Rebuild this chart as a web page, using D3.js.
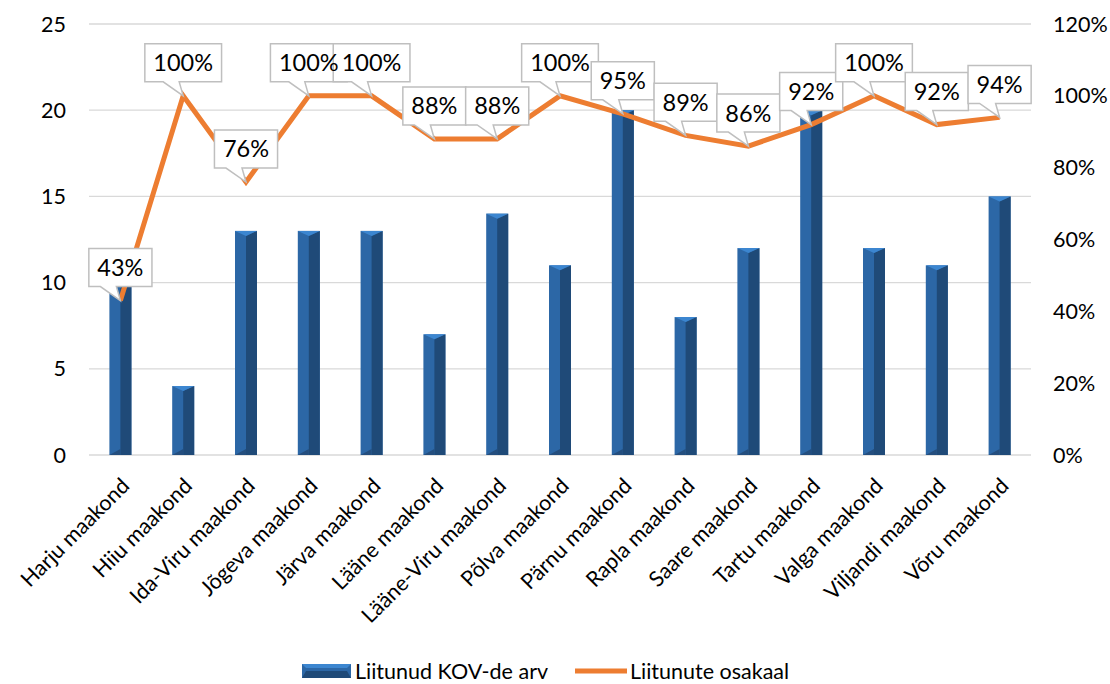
<!DOCTYPE html>
<html><head><meta charset="utf-8">
<script src="https://cdn.jsdelivr.net/npm/d3@7"></script>
<style>body{margin:0;background:#fff;} text{font-family:Lato,"Noto Sans",sans-serif;fill:#000;}</style>
</head><body>
<svg id="c" width="1110" height="684"></svg>
<script>
const categories = ["Harju maakond","Hiiu maakond","Ida-Viru maakond","Jõgeva maakond","Järva maakond","Lääne maakond","Lääne-Viru maakond","Põlva maakond","Pärnu maakond","Rapla maakond","Saare maakond","Tartu maakond","Valga maakond","Viljandi maakond","Võru maakond"];
const counts = [10,4,13,13,13,7,14,11,20,8,12,20,12,11,15];
const shares = [0.43,1.00,0.76,1.00,1.00,0.88,0.88,1.00,0.95,0.89,0.86,0.92,1.00,0.92,0.94];
const leftTicks = [0,5,10,15,20,25];
const rightTicks = [0,0.2,0.4,0.6,0.8,1.0,1.2];
const seriesNames = ["Liitunud KOV-de arv","Liitunute osakaal"];

const svg = d3.select("#c");
const L=89, R=1031, T=24, B=455;
const x = d3.scaleBand().domain(categories).range([L,R]);
const yL = d3.scaleLinear().domain([0,25]).range([B,T]);
const yR = d3.scaleLinear().domain([0,1.2]).range([B,T]);

// gridlines
svg.append("g").selectAll("line").data(leftTicks).join("line")
  .attr("x1",L).attr("x2",R).attr("y1",d=>yL(d)).attr("y2",d=>yL(d))
  .attr("stroke","#D9D9D9").attr("stroke-width",1.3);

// left axis labels
svg.append("g").selectAll("text").data(leftTicks).join("text")
  .attr("x",66).attr("y",d=>yL(d)).attr("dy","0.35em").attr("text-anchor","end")
  .style("font-size","21.5px").text(d=>d);
// right axis labels
svg.append("g").selectAll("text").data(rightTicks).join("text")
  .attr("x",1053).attr("y",d=>yR(d)).attr("dy","0.35em").attr("text-anchor","start")
  .style("font-size","21.5px").text(d=>d3.format(".0%")(d));

// bars with bevel
const bw = 22;
const bars = svg.append("g").selectAll("g").data(categories).join("g");
bars.each(function(c,i){
  const g = d3.select(this);
  const cx = x(c)+x.bandwidth()/2;
  const x0 = cx-bw/2, x1 = cx+bw/2, y0 = yL(counts[i]), y1 = yL(0);
  g.append("rect").attr("x",x0).attr("y",y0).attr("width",bw).attr("height",y1-y0).attr("fill","#2C67A6");
  g.append("polygon").attr("points",[[cx,y0+5],[x1,y0],[x1,y1],[cx,y1]].join(" ")).attr("fill","#1F4A78");
  g.append("polygon").attr("points",[[x0,y0],[x1,y0],[cx,y0+5]].join(" ")).attr("fill","#3C86D0");
  g.append("polygon").attr("points",[[x0,y1],[cx,y1-6],[cx,y1]].join(" ")).attr("fill","#244E7E");
});

// line
const line = d3.line().x((d,i)=>x(categories[i])+x.bandwidth()/2).y(d=>yR(d));
svg.append("path").datum(shares).attr("d",line).attr("fill","none")
  .attr("stroke","#ED7D31").attr("stroke-width",5).attr("stroke-linejoin","miter");

// callouts
const cg = svg.append("g");
shares.forEach((s,i)=>{
  const px = x(categories[i])+x.bandwidth()/2, py = yR(s);
  const label = d3.format(".0%")(s);
  const t = cg.append("text").attr("x",px).attr("y",0).style("font-size","23.5px").attr("text-anchor","middle").text(label);
  const tw = t.node().getComputedTextLength();
  const w = tw+17, h = 38;
  const bx = px - w/2, bb = py - 14, by = bb - h;
  const pts = [[bx,by],[bx+w,by],[bx+w,bb],[px-4,bb],[px,py],[px-20,bb],[bx,bb]];
  cg.insert("polygon","text").attr("points",pts.join(" ")).attr("fill","#fff").attr("stroke","#BFBFBF").attr("stroke-width",1.5);
  t.attr("y",by+h/2).attr("dy","0.36em");
});

// category labels
svg.append("g").selectAll("text").data(categories).join("text")
  .attr("transform",d=>`translate(${x(d)+x.bandwidth()/2+5},${B+27}) rotate(-45)`)
  .attr("text-anchor","end").attr("dy","0.35em").style("font-size","21.5px").text(d=>d);

// legend
const lg = svg.append("g");
const sx=302, sy=664, sw=49, sh=14;
lg.append("rect").attr("x",sx).attr("y",sy).attr("width",sw).attr("height",sh).attr("fill","#2C67A6");
lg.append("polygon").attr("points",[[sx,sy+sh],[sx+4,sy+sh/2],[sx+sw-4,sy+sh/2],[sx+sw,sy+sh]].join(" ")).attr("fill","#1F4A78");
lg.append("polygon").attr("points",[[sx,sy],[sx+sw,sy],[sx+sw-4,sy+4],[sx+4,sy+4]].join(" ")).attr("fill","#3C86D0");
lg.append("text").attr("x",355).attr("y",sy+sh/2).attr("dy","0.36em").style("font-size","21.5px").text(seriesNames[0]);
lg.append("line").attr("x1",575).attr("x2",627).attr("y1",671).attr("y2",671).attr("stroke","#ED7D31").attr("stroke-width",5);
lg.append("text").attr("x",630).attr("y",671).attr("dy","0.36em").style("font-size","21.5px").text(seriesNames[1]);
</script>
</body></html>
